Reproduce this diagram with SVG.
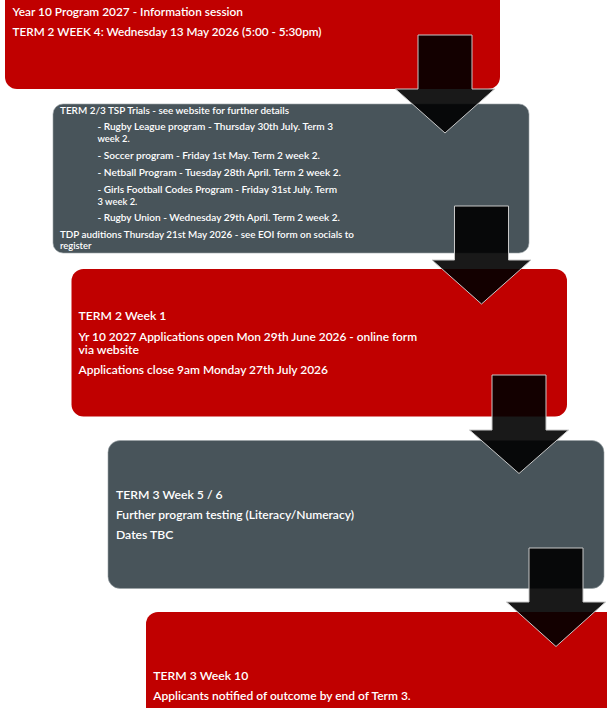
<svg xmlns="http://www.w3.org/2000/svg" width="607" height="708" viewBox="0 0 607 708">
<style>
.red{fill:#c00000}
.gray{fill:#48545a;stroke:#9aa2a6;stroke-width:0.6}
.t{font-family:Lato,"Open Sans","Liberation Sans",sans-serif;fill:#ffffff;font-weight:600}
.big{font-size:12.2px}
.small{font-size:9.4px}
.arrow{fill:#000000;fill-opacity:0.9;stroke:#c8c8c8;stroke-width:1}
</style>
<rect width="607" height="708" fill="#ffffff"/>
<g id="node1">
<rect class="red" x="5" y="-14" width="495" height="103" rx="12"/>
<text class="t big" x="12.5" y="16" textLength="230.5" lengthAdjust="spacingAndGlyphs">Year 10 Program 2027 - Information session</text>
<text class="t big" x="12.5" y="35.5" textLength="309" lengthAdjust="spacingAndGlyphs">TERM 2 WEEK 4: Wednesday 13 May 2026 (5:00 - 5:30pm)</text>
</g>
<g id="node2">
<rect class="gray" x="53" y="104" width="476" height="149" rx="10"/>
<text class="t small" x="60" y="113.5" textLength="229" lengthAdjust="spacingAndGlyphs">TERM 2/3 TSP Trials - see website for further details</text>
<text class="t small" x="97.5" y="130" textLength="235.5" lengthAdjust="spacingAndGlyphs">- Rugby League program - Thursday 30th July. Term 3</text>
<text class="t small" x="97.5" y="142">week 2.</text>
<text class="t small" x="97.5" y="159" textLength="222.5" lengthAdjust="spacingAndGlyphs">- Soccer program - Friday 1st May. Term 2 week 2.</text>
<text class="t small" x="97.5" y="176" textLength="243.5" lengthAdjust="spacingAndGlyphs">- Netball Program - Tuesday 28th April. Term 2 week 2.</text>
<text class="t small" x="97.5" y="192.8" textLength="239.5" lengthAdjust="spacingAndGlyphs">- Girls Football Codes Program - Friday 31st July. Term</text>
<text class="t small" x="97.5" y="204.5">3 week 2.</text>
<text class="t small" x="97.5" y="221" textLength="242.5" lengthAdjust="spacingAndGlyphs">- Rugby Union - Wednesday 29th April. Term 2 week 2.</text>
<text class="t small" x="60" y="237.8" textLength="294" lengthAdjust="spacingAndGlyphs">TDP auditions Thursday 21st May 2026 - see EOI form on socials to</text>
<text class="t small" x="60" y="249.3">register</text>
</g>
<g id="node3">
<rect class="red" x="71.5" y="269" width="495.5" height="147.5" rx="12"/>
<text class="t big" x="78.5" y="320">TERM 2 Week 1</text>
<text class="t big" x="78.5" y="340.5" textLength="338.5" lengthAdjust="spacingAndGlyphs">Yr 10 2027 Applications open Mon 29th June 2026 - online form</text>
<text class="t big" x="78.5" y="354">via website</text>
<text class="t big" x="78.5" y="373.5" textLength="249.5" lengthAdjust="spacingAndGlyphs">Applications close 9am Monday 27th July 2026</text>
</g>
<g id="node4">
<rect class="gray" x="108" y="440.5" width="496" height="148" rx="12"/>
<text class="t big" x="116" y="498.5">TERM 3 Week 5 / 6</text>
<text class="t big" x="116" y="519" textLength="238" lengthAdjust="spacingAndGlyphs">Further program testing (Literacy/Numeracy)</text>
<text class="t big" x="116" y="539">Dates TBC</text>
</g>
<g id="node5">
<rect class="red" x="146" y="612" width="475" height="120" rx="12"/>
<text class="t big" x="153.3" y="680">TERM 3 Week 10</text>
<text class="t big" x="153.3" y="700" textLength="257.4" lengthAdjust="spacingAndGlyphs">Applicants notified of outcome by end of Term 3.</text>
</g>
<g id="connectors">
<polygon class="arrow" points="418,35 472,35 472,89 494.5,89 445,133 395.5,89 418,89"/>
<polygon class="arrow" points="454.5,206 508.5,206 508.5,260 531,260 481.5,304 432,260 454.5,260"/>
<polygon class="arrow" points="492,375 546,375 546,430 568.5,430 519,473.5 469.5,430 492,430"/>
<polygon class="arrow" points="529,548 583,548 583,602 605.5,602 556,646.5 506.5,602 529,602"/>
</g>
</svg>
